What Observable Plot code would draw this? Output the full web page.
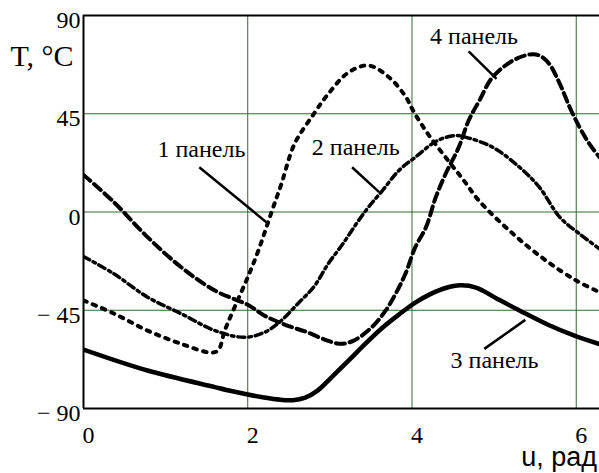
<!DOCTYPE html>
<html><head><meta charset="utf-8">
<script src="https://cdn.jsdelivr.net/npm/d3@7"></script>
<script src="https://cdn.jsdelivr.net/npm/@observablehq/plot@0.6"></script>
<style>
html,body{margin:0;padding:0;background:#fff;font:24px "Liberation Serif","Times New Roman",serif}
#wrap{position:relative;width:599px;height:473px}
#chart svg{display:block;background:#fff}
#chart svg text{font-family:"Liberation Serif","Times New Roman",serif !important}
#xlabel{position:absolute;right:2px;top:444px;font:27px/27px "Liberation Sans",Arial,sans-serif;color:#000;white-space:nowrap}
</style>
</head><body><div id="wrap"><div id="chart"></div><div id="xlabel"></div></div>
<script>
// x values in rad, y values in °C
const panel1X = [0, 0.37, 0.78, 1.19, 1.55, 1.64, 1.72, 1.84, 2.0, 2.13, 2.29, 2.41, 2.57, 2.80, 2.98, 3.23, 3.47, 3.72, 3.92, 4.02, 4.19, 4.41, 4.62, 4.82, 5.23, 5.63, 6.0, 6.283];
const panel1Y = [-40.5, -46.5, -54.3, -60.4, -64.4, -63.4, -54.3, -43.6, -29.9, -17.6, 0, 12.9, 31.2, 44.7, 54.1, 64.0, 67.1, 61.7, 53, 46, 36, 25, 15, 5, -10, -22.2, -31.4, -36.7];

const panel2X = [0, 0.37, 0.78, 1.19, 1.60, 1.96, 2.21, 2.40, 2.61, 2.81, 2.98, 3.15, 3.35, 3.47, 3.64, 3.84, 4.04, 4.31, 4.53, 4.65, 4.98, 5.31, 5.55, 5.80, 6.04, 6.283];
const panel2Y = [-20.4, -28.3, -39, -46.6, -54.3, -57.4, -55, -50, -42, -34, -23.7, -15, -3.9, 2.2, 9.8, 19, 25.1, 32.7, 35, 34.3, 29.7, 20.5, 11.4, -2.4, -10, -16.9];

const panel3X = [0, 0.78, 1.60, 1.80, 2.0, 2.2, 2.4, 2.55, 2.7, 2.85, 3.02, 3.23, 3.43, 3.64, 3.84, 4.04, 4.23, 4.41, 4.59, 4.78, 5.04, 5.32, 5.65, 5.97, 6.283];
const panel3Y = [-63, -72.6, -80.2, -82, -83.6, -85, -86, -86.2, -85, -81.8, -75.7, -68, -60.4, -53, -47, -41.5, -37.5, -34.8, -33.6, -34.6, -39.8, -45.3, -51.5, -56.5, -60.5];

const panel4X = [0, 0.37, 0.78, 1.19, 1.60, 2.0, 2.2, 2.48, 2.72, 2.97, 3.13, 3.29, 3.51, 3.68, 3.80, 3.92, 4.04, 4.17, 4.29, 4.41, 4.57, 4.69, 4.82, 4.98, 5.23, 5.43, 5.55, 5.67, 5.80, 5.92, 6.04, 6.16, 6.283];
const panel4Y = [17, 4.5, -11.5, -25.3, -36, -42.5, -47.4, -52, -55, -58.9, -60.4, -58.9, -52.8, -45.1, -37.5, -28.3, -16.1, -7, 6.8, 17.5, 29.7, 41.9, 51, 61.7, 69.4, 72.1, 71.7, 67.9, 58.7, 48, 38.8, 31.2, 25.1];

const xTicks = [0, 2, 4, 6];
const yTicks = [-90, -45, 0, 45, 90];
const yTitle = "T, \u00B0C";
const xTitle = "u, рад";

// annotations (data units)
const labelText = ["1 панель", "2 панель", "3 панель", "4 панель"];
const labelX = [0.90, 2.78, 4.47, 4.22];
const labelY = [25.4, 25.9, -71.4, 77.0];
const leaderX1 = [1.41, 3.27, 4.88, 4.69];
const leaderY1 = [20.5, 20.5, -62.7, 73.6];
const leaderX2 = [2.26, 3.60, 5.38, 5.03];
const leaderY2 = [-5.7, 9.1, -49.4, 61.0];

const rows = (xs, ys) => xs.map((x, i) => ({x, y: ys[i]}));
const labels = labelText.map((t, i) => ({t, x: labelX[i], y: labelY[i]}));
const leaders = labelText.map((t, i) => ({x1: leaderX1[i], y1: leaderY1[i], x2: leaderX2[i], y2: leaderY2[i]}));

const serif = "Liberation Serif";
const grid = "#2e6b2e";

const chart = Plot.plot({
  width: 599, height: 473,
  marginLeft: 83, marginRight: 0, marginTop: 15, marginBottom: 65,
  x: {domain: [0, 2 * Math.PI]},
  y: {domain: [-90, 90]},
  marks: [
    Plot.gridX(xTicks.slice(1), {stroke: grid, strokeOpacity: 1, strokeWidth: 1}),
    Plot.gridY([-45, 0, 45], {stroke: grid, strokeOpacity: 1, strokeWidth: 1}),
    Plot.axisX(xTicks, {tickSize: 0, tickPadding: 17, dx: 5, label: null, fontSize: 24, fontFamily: serif, fill: "#000"}),
    Plot.axisY(yTicks, {tickSize: 0, tickPadding: 3, dy: 5, label: null, fontSize: 24, fontFamily: serif, fill: "#000",
      tickFormat: d => d < 0 ? "\u2212 " + Math.abs(d) : String(d)}),
    Plot.ruleX([0], {stroke: "#000", strokeWidth: 2}),
    Plot.ruleY([-90, 90], {stroke: "#000", strokeWidth: 2}),
    Plot.line(rows(panel3X, panel3Y), {x: "x", y: "y", stroke: "#000", strokeWidth: 4.5, curve: "catmull-rom", clip: true}),
    Plot.line(rows(panel4X, panel4Y), {x: "x", y: "y", stroke: "#000", strokeWidth: 4, strokeDasharray: "9,5", curve: "catmull-rom", clip: true}),
    Plot.line(rows(panel2X, panel2Y), {x: "x", y: "y", stroke: "#000", strokeWidth: 3.5, strokeDasharray: "7,4,2.5,4", curve: "catmull-rom", clip: true}),
    Plot.line(rows(panel1X, panel1Y), {x: "x", y: "y", stroke: "#000", strokeWidth: 4, strokeDasharray: "3.5,6.5", curve: "catmull-rom", clip: true}),
    Plot.link(leaders, {x1: "x1", y1: "y1", x2: "x2", y2: "y2", stroke: "#000", strokeWidth: 2.5}),
    Plot.text(labels, {x: "x", y: "y", text: "t", textAnchor: "start", lineAnchor: "bottom", fontSize: 24, fontFamily: serif, fill: "#000"}),
    Plot.text([yTitle], {frameAnchor: "top-left", dx: -73, dy: 50, textAnchor: "start", lineAnchor: "bottom", fontSize: 30, fontFamily: serif, fill: "#000"})
  ]
});
chart.setAttribute("font-family", serif);
chart.style.fontFamily = "'Liberation Serif'";
chart.querySelectorAll("g[font-family]").forEach(g => {
  const ff = g.getAttribute("font-family");
  g.querySelectorAll("text").forEach(t => { t.setAttribute("font-family", ff); t.style.fontFamily = "'" + ff + "'"; });
});
document.getElementById("chart").append(chart);
document.getElementById("xlabel").textContent = xTitle;
</script>
</body></html>
